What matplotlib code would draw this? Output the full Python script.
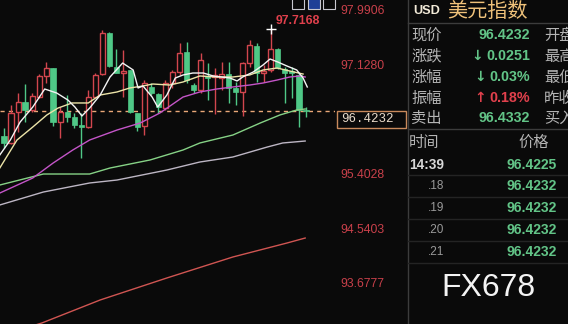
import matplotlib
matplotlib.use('Agg')
import matplotlib.pyplot as plt
from matplotlib.patches import Rectangle
from matplotlib.transforms import blended_transform_factory

plt.rcParams['font.family'] = ['Liberation Sans', 'Noto Sans CJK SC', 'DejaVu Sans']

# candles (oldest -> newest)
opens = [96.020, 95.910, 96.400, 96.558, 96.432, 96.637, 96.970, 97.096, 96.242, 96.400, 96.321,
         96.194, 96.163, 96.637, 97.001, 97.650, 97.112, 97.017, 97.065, 96.384, 96.179, 96.796,
         96.685, 96.463, 96.859, 97.033, 97.350, 96.827, 96.748, 96.970, 96.954, 96.938, 97.001,
         96.780, 96.717, 97.175, 97.444, 97.017, 97.065, 97.397, 97.081, 97.049, 96.986, 96.432]
highs = [96.147, 96.511, 96.701, 96.843, 96.701, 97.001, 97.191, 97.096, 96.479, 96.669, 96.384,
         96.384, 96.748, 97.017, 97.690, 97.660, 97.397, 97.381, 97.065, 96.384, 96.906, 96.859,
         96.701, 96.906, 97.065, 97.492, 97.508, 96.859, 97.334, 97.175, 97.096, 97.191, 97.191,
         96.875, 97.191, 97.539, 97.492, 97.144, 97.7168, 97.410, 97.112, 97.112, 97.017, 96.479]
lows = [95.831, 95.894, 96.084, 96.242, 96.400, 96.622, 96.859, 96.179, 95.989, 96.242, 96.147,
        95.672, 96.147, 96.637, 96.986, 97.112, 97.017, 96.637, 96.384, 96.100, 96.036, 96.669,
        96.384, 96.432, 96.780, 96.986, 96.859, 96.701, 96.701, 96.590, 96.369, 96.748, 96.543,
        96.511, 96.337, 97.112, 96.875, 96.875, 97.033, 97.081, 96.543, 96.622, 96.163, 96.321]
closes = [95.910, 96.384, 96.558, 96.432, 96.653, 96.970, 97.096, 96.242, 96.400, 96.321, 96.194,
          96.163, 96.637, 96.986, 97.650, 97.128, 97.017, 97.049, 96.400, 96.163, 96.859, 96.701,
          96.479, 96.859, 97.033, 97.334, 96.906, 96.748, 97.223, 96.938, 96.986, 97.001, 96.780,
          96.717, 97.175, 97.460, 97.017, 97.049, 97.397, 97.096, 97.017, 97.017, 96.432, 96.4232]

# moving average lines (candle index, price)
ma5_x = [-0.6, 0.9, 2.3, 4.1, 5.8, 7.5, 9.1, 10.1, 11.1, 12.2, 13.7, 15.1, 16.9, 18.4, 19.1, 19.8,
         21.1, 21.9, 23.2, 24.4, 25.5, 26.9, 28.4, 29.8, 31.0, 32.2, 33.2, 34.0, 35.5, 36.9, 37.9,
         39.0, 40.3, 41.7, 42.6, 43.2]
ma5_y = [95.720, 95.957, 96.242, 96.479, 96.764, 96.701, 96.590, 96.479, 96.337, 96.463, 96.669,
         96.954, 97.175, 97.065, 96.780, 96.812, 96.637, 96.479, 96.669, 96.938, 96.986, 97.017,
         97.017, 96.970, 96.954, 96.938, 96.891, 96.954, 97.033, 97.144, 97.239, 97.191, 97.128,
         97.065, 96.938, 96.796]
ma10_x = [-0.6, 1.85, 4.1, 6.1, 7.7, 9.7, 12.0, 13.7, 16.1, 17.9, 19.8, 21.2, 23.6, 25.5, 27.9,
          30.3, 32.6, 35.0, 36.9, 38.9, 40.7, 42.6]
ma10_y = [95.514, 95.957, 96.163, 96.353, 96.463, 96.543, 96.543, 96.669, 96.717, 96.780, 96.812,
          96.843, 96.827, 96.875, 96.970, 96.954, 96.954, 96.986, 97.065, 97.096, 97.049, 97.001]
ma20_x = [-0.6, 4.1, 7.0, 9.8, 12.2, 16.1, 19.4, 22.2, 25.5, 27.9, 30.3, 32.6, 35.0, 36.9, 38.9,
          40.7, 42.2, 42.9]
ma20_y = [95.118, 95.356, 95.593, 95.799, 95.957, 96.115, 96.226, 96.384, 96.637, 96.717, 96.764,
          96.796, 96.827, 96.859, 96.906, 96.954, 96.970, 96.954]
ma60_x = [-0.6, 5.6, 12.2, 15.1, 20.8, 25.5, 27.9, 32.6, 36.5, 39.3, 41.7, 42.9]
ma60_y = [95.245, 95.419, 95.419, 95.514, 95.641, 95.799, 95.910, 96.036, 96.226, 96.353, 96.432,
          96.448]
ma120_x = [-0.6, 5.6, 12.2, 16.1, 23.2, 27.9, 32.6, 37.5, 39.7, 42.9]
ma120_y = [94.929, 95.134, 95.277, 95.324, 95.482, 95.609, 95.688, 95.846, 95.910, 95.941]
ma250_x = [3.3, 5.4, 13.7, 23.2, 32.6, 40.3, 42.9]
ma250_y = [92.990, 93.062, 93.426, 93.774, 94.106, 94.327, 94.406]

axis_ticks = [97.9906, 97.1280, 95.4028, 94.5403, 93.6777]
last_price = 96.4232
max_price = 97.7168
max_index = 38

quote_labels = ['现价', '涨跌', '涨幅', '振幅', '卖出']
quote_values = ['96.4232', '0.0251', '0.03%', '0.18%', '96.4332']
quote_dirs = [0, -1, -1, 1, 0]
side_labels = ['开盘', '最高', '最低', '昨收', '买入']
tick_times = ['14:39', '.18', '.19', '.20', '.21']
tick_prices = ['96.4225', '96.4232', '96.4232', '96.4232', '96.4232']

BG = '#0a0a0a'
UP = '#d2464e'
DOWN = '#4fc887'
GREEN_TXT = '#62c487'
RED_TXT = '#e0404c'
GREY_TXT = '#b4b4b4'

fig = plt.figure(figsize=(5.68, 3.24), dpi=100, facecolor=BG)

ax = fig.add_axes([0, 0, 335 / 568, 1])
ax.set_xlim(-0.57, 47.15)
ylim = (93.0458, 98.1723)
ax.set_ylim(*ylim)
ax.axis('off')

for i in range(len(opens)):
    o, h, l, c = opens[i], highs[i], lows[i], closes[i]
    top, bot = max(o, c), min(o, c)
    body = max(top - bot, 0.006)
    if c > o:
        ax.vlines(i, top, h, color=UP, lw=1)
        ax.vlines(i, l, bot, color=UP, lw=1)
        ax.add_patch(Rectangle((i - 0.36, bot), 0.72, body, fc=BG, ec=UP, lw=1, zorder=2))
    else:
        ax.vlines(i, l, h, color=DOWN, lw=1)
        ax.add_patch(Rectangle((i - 0.38, bot), 0.76, body, fc=DOWN, ec=DOWN, lw=0.5, zorder=2))

ax.plot(ma250_x, ma250_y, color='#d05552', lw=1, zorder=3)
ax.plot(ma120_x, ma120_y, color='#bdb6c4', lw=1, zorder=3)
ax.plot(ma60_x, ma60_y, color='#86d286', lw=1, zorder=3)
ax.plot(ma20_x, ma20_y, color='#c455c8', lw=1, zorder=3)
ax.plot(ma10_x, ma10_y, color='#ece4a8', lw=1, zorder=3)
ax.plot(ma5_x, ma5_y, color='#f4f4f4', lw=1, zorder=3)

ax.axhline(last_price, color='#eaa878', lw=1, dashes=(3, 3), zorder=1)

ax.plot(max_index, max_price, marker='+', color='white', ms=7, mew=1, zorder=4)
ax.annotate('%.4f' % max_price, xy=(max_index, max_price), xytext=(27, 8),
            textcoords='offset pixels', ha='center', va='center',
            color=RED_TXT, fontsize=8.8, fontweight='bold')

# price axis column
lab = fig.add_axes([335 / 568, 0, 73 / 568, 1])
lab.set_xlim(0, 1)
lab.set_ylim(*ylim)
lab.axis('off')
for t in axis_ticks:
    lab.text(0.08, t, '%.4f' % t, color='#c8404a', fontsize=8.8, va='center', ha='left')
ppu = 324 / (ylim[1] - ylim[0])
tr = blended_transform_factory(lab.transAxes, lab.transData)
lab.add_patch(Rectangle((0.03, last_price - 17 / ppu), 0.94, 17 / ppu, transform=tr,
                        fc=BG, ec='#c98a5c', lw=1))
lab.text(0.08, last_price - 8.5 / ppu, '%.4f' % last_price, color='#eadccb',
         family='Liberation Mono', fontsize=9, va='center', ha='left')

# overlay in pixel units for the quote panel
pn = fig.add_axes([0, 0, 1, 1])
pn.set_xlim(0, 568)
pn.set_ylim(324, 0)
pn.axis('off')

for x0 in [292, 308, 323]:
    fc = '#1f3f96' if x0 == 308 else BG
    pn.add_patch(Rectangle((x0, -2), 12, 11, fc=fc, ec='#c8c8d0', lw=0.8))

pn.plot([407.5, 407.5], [0, 324], color='#3c3c3c', lw=1)
pn.plot([408, 568], [23, 23], color='#3c3c3c', lw=1)
pn.plot([408, 568], [129, 129], color='#3c3c3c', lw=1)
for yy in [175, 197, 219, 241, 263]:
    pn.plot([408, 568], [yy, yy], color='#242424', lw=1)

cjk = ['Noto Sans CJK SC', 'DejaVu Sans']
pn.text(413, 11, 'USD', color='#f2ead8', fontsize=9.2, fontweight='bold', va='center')
pn.text(447, 11, '美元指数', family=cjk, color='#f0c27a', fontsize=14.5, va='center')

rend = fig.canvas.get_renderer()
rows_y = [35, 56, 77, 98, 118]
for k in range(5):
    y = rows_y[k]
    pn.text(411, y, quote_labels[k], family=cjk, color=GREY_TXT, fontsize=11, va='center')
    pn.text(544, y, side_labels[k], family=cjk, color=GREY_TXT, fontsize=11, va='center')
    col = RED_TXT if quote_dirs[k] > 0 else GREEN_TXT
    t = pn.text(530, y, quote_values[k], color=col, fontsize=10.3, fontweight='bold',
                ha='right', va='center')
    if quote_dirs[k] != 0:
        w = t.get_window_extent(rend).width
        pn.text(530 - w - 3, y, '↑' if quote_dirs[k] > 0 else '↓', family='DejaVu Sans',
                color=col, fontsize=10, fontweight='bold', ha='right', va='center')

pn.text(409, 142, '时间', family=cjk, color=GREY_TXT, fontsize=11, va='center')
pn.text(518, 142, '价格', family=cjk, color=GREY_TXT, fontsize=11, va='center')
trade_y = [165, 186, 208, 230, 252]
for k in range(5):
    y = trade_y[k]
    if k == 0:
        pn.text(409, y, tick_times[k], color='#d8d8d8', fontsize=9.8, fontweight='bold', va='center')
    else:
        pn.text(444, y, tick_times[k], color='#9a9a9a', fontsize=8.5, ha='right', va='center')
    pn.text(557, y, tick_prices[k], color=GREEN_TXT, fontsize=10, fontweight='bold',
            ha='right', va='center')

pn.text(488, 288, 'FX678', color='#f4f4f4', fontsize=23, ha='center', va='center')

fig.savefig('out.png', dpi=100, facecolor=BG)
